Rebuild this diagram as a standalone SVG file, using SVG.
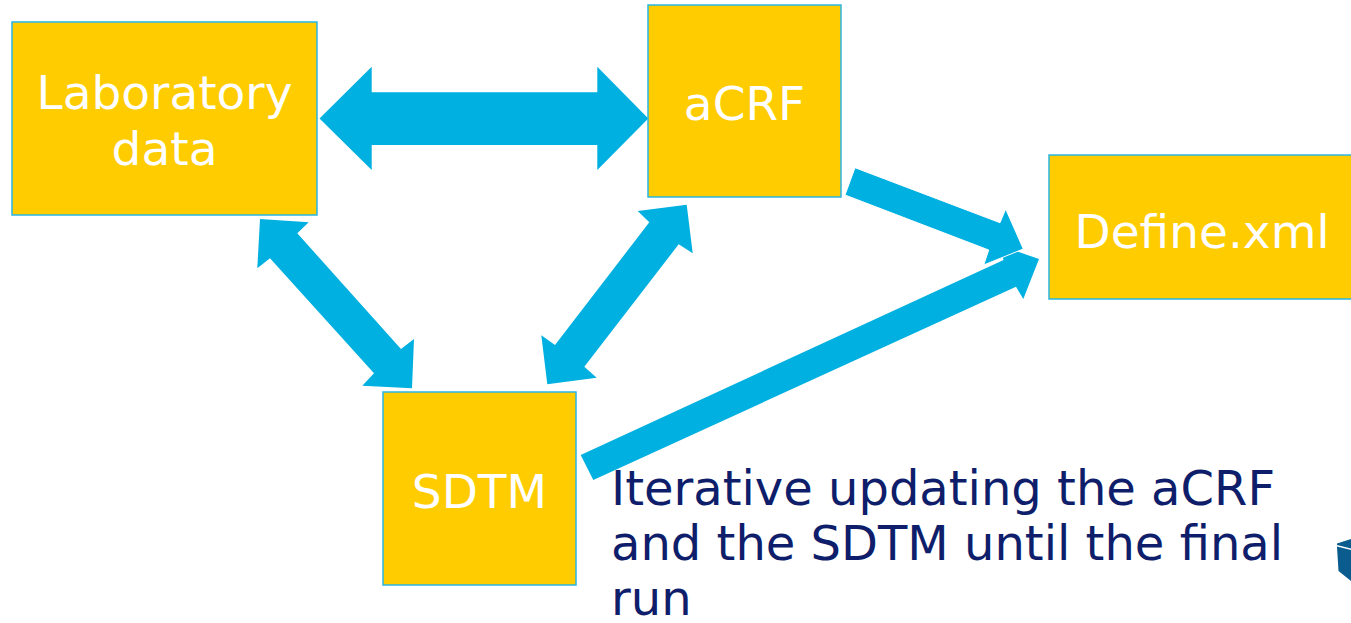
<svg xmlns="http://www.w3.org/2000/svg" width="1351" height="623" viewBox="0 0 1351 623">
  <style>
    .box { fill: #FFCC00; stroke: #29B6E3; stroke-width: 1.5; }
    .label { font-family: "DejaVu Sans", Verdana, sans-serif; font-size: 47px; fill: #FFFFFF; text-anchor: middle; }
    .arrow { fill: #00B0E0; }
    .caption { font-family: "DejaVu Sans", Verdana, sans-serif; font-size: 48px; fill: #0E1E6B; }
  </style>
  <rect width="1351" height="623" fill="#FFFFFF"/>

  <!-- connectors -->
  <g id="connectors">
    <!-- Laboratory data <-> aCRF -->
    <polygon class="arrow" points="319.5,118.5 371.7,66.7 371.7,92.3 597.3,92.3 597.3,66.7 648.3,118.5 597.3,170 597.3,145 371.7,145 371.7,170"/>
    <!-- Laboratory data <-> SDTM -->
    <polygon class="arrow" points="260,219 308.7,222.3 297.3,233.3 401,349 414,339 412,388.3 362.3,385.7 374,373.3 270,258.3 257.3,268.3"/>
    <!-- aCRF <-> SDTM -->
    <polygon class="arrow" points="686.7,204.7 692.7,253.3 678.7,244.3 584.3,366.7 596.7,377.7 547.3,384.3 541.3,335.3 555,345 649.3,222.3 637.7,211"/>
    <!-- SDTM -> Define.xml -->
    <polygon class="arrow" points="580.7,455 1003.6,259.9 998.5,245 1039,259 1023.3,299 1016,286.7 593.3,480"/>
    <!-- aCRF -> Define.xml -->
    <polygon class="arrow" points="855,167.7 1000,222.7 1005.7,209 1023.3,249 983.7,265 988.7,250 845,195" stroke="#FFFFFF" stroke-width="1"/>
  </g>

  <g id="node-lab">
    <rect class="box" x="12" y="22" width="305" height="193"/>
    <text class="label" x="164.5" y="109">Laboratory</text>
    <text class="label" x="164.5" y="165">data</text>
  </g>

  <g id="node-acrf">
    <rect class="box" x="648" y="5" width="193" height="192"/>
    <text class="label" x="744.5" y="120">aCRF</text>
  </g>

  <g id="node-define">
    <rect class="box" x="1049" y="155" width="310" height="144"/>
    <text class="label" x="1202" y="247.5">Define.xml</text>
  </g>

  <g id="node-sdtm">
    <rect class="box" x="383" y="392" width="193" height="193"/>
    <text class="label" x="479.5" y="508">SDTM</text>
  </g>

  <g id="caption">
    <text class="caption" x="611" y="505">Iterative updating the aCRF</text>
    <text class="caption" x="611" y="560">and the SDTM until the final</text>
    <text class="caption" x="611" y="615">run</text>
  </g>

  <!-- corner ornament -->
  <g id="cube">
    <polygon points="1337,543.5 1351,539 1351,548.5 1337,545" fill="#0B5C8E"/>
    <polygon points="1337,546.5 1351,550 1351,581 1338.5,571" fill="#0B5C8E"/>
  </g>
</svg>
